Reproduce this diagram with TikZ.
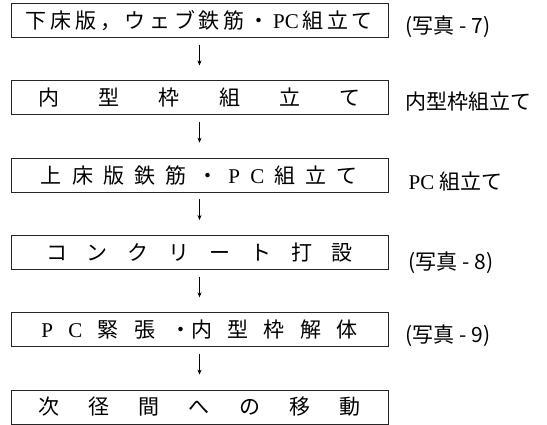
\documentclass[tikz,border=0pt]{standalone}
\usepackage{fontspec}
\setmainfont{Liberation Serif}
\newfontfamily\jp{Noto Sans CJK JP}
\usetikzlibrary{positioning,arrows.meta}

\begin{document}
\begin{tikzpicture}[x=1pt, y=1pt,
    stepbox/.style = {draw=black!85, line width=0.8pt, minimum width=377pt, minimum height=34pt, inner sep=0pt, font=\fontsize{21}{21}\selectfont},
    note/.style = {inner sep=0pt, font=\fontsize{21}{21}\selectfont},
    flow/.style = {-{Stealth[length=5pt,width=4pt]}, line width=0.6pt, shorten <=7pt, shorten >=15pt},
    node distance=42.5pt]
    \useasboundingbox (0,0) rectangle (547,-425);

    \node[stepbox] (lower) at (199.5,-20.5) {\hbox to 347pt{\jp 下\hfil 床\hfil 版\hfil ，\hfil ウ\hfil ェ\hfil ブ\hfil 鉄\hfil 筋\hfil ・\hfil {\rmfamily PC}\hfil 組\hfil 立\hfil て}};
    \node[stepbox] (inner) [below=of lower] {\hbox to 322pt{\jp 内\hfill 型\hfill 枠\hfill 組\hfill 立\hfill て}};
    \node[stepbox] (upper) [below=of inner] {\hbox to 317pt{\jp 上\hfill 床\hfill 版\hfill 鉄\hfill 筋\hfill ・\hfill {\rmfamily P}\hfill {\rmfamily C}\hfill 組\hfill 立\hfill て}};
    \node[stepbox] (pour) [below=of upper] {\hbox to 307pt{\jp コ\hfill ン\hfill ク\hfill リ\hfill ー\hfill ト\hfill 打\hfill 設}};
    \node[stepbox] (stress) [below=of pour] {\hbox to 316pt{\jp {\rmfamily P}\hfill {\rmfamily C}\hfill 緊\hfill 張\hfill ・内\hfill 型\hfill 枠\hfill 解\hfill 体}};
    \node[stepbox] (move) [below=of stress] {\hbox to 323pt{\jp 次\hfill 径\hfill 間\hfill へ\hfill の\hfill 移\hfill 動}};

    \node[note] (n7) [right=17pt of lower, yshift=-6.5pt] {\jp (写真 - 7)};
    \node[note] (ninner) [right=17pt of inner, yshift=-3.5pt] {\jp 内型枠組立て};
    \node[note] (npc) [right=20pt of upper, yshift=-6.5pt] {PC {\jp 組立て}};
    \node[note] (n8) [right=20pt of pour, yshift=-10pt] {\jp (写真 - 8)};
    \node[note] (n9) [right=17pt of stress, yshift=-6pt] {\jp (写真 - 9)};

    \draw[flow] (lower) -- (inner);
    \draw[flow] (inner) -- (upper);
    \draw[flow] (upper) -- (pour);
    \draw[flow] (pour) -- (stress);
    \draw[flow] (stress) -- (move);

\end{tikzpicture}
\end{document}
